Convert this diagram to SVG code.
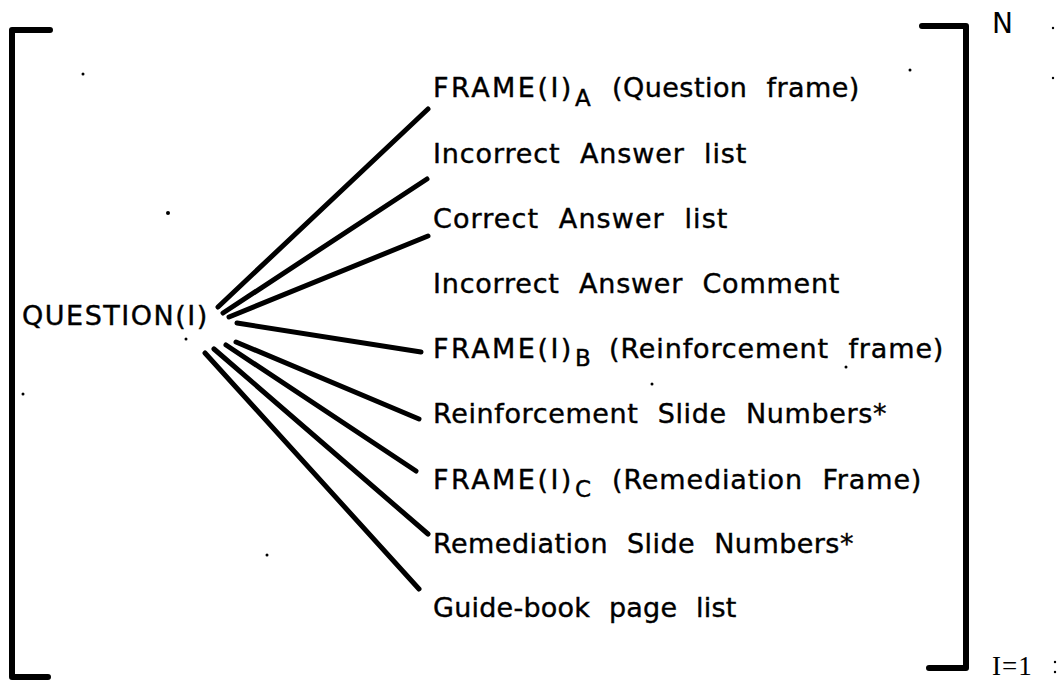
<svg xmlns="http://www.w3.org/2000/svg" width="1061" height="680" viewBox="0 0 1061 680">
  <style>
    .lbl { font-family: "DejaVu Sans", "Liberation Sans", Arial, sans-serif; font-size: 27px; letter-spacing: 0.6px; word-spacing: 10px; fill: #000; stroke: #000; stroke-width: 0.4px; }
    .sub { font-size: 23px; }
    .lim { font-family: "DejaVu Sans", "Liberation Sans", Arial, sans-serif; font-size: 28px; fill: #000; }
    .limserif { font-family: "Liberation Serif", "Times New Roman", serif; font-size: 27px; letter-spacing: 1px; fill: #000; }
    .bracket { fill: none; stroke: #000; stroke-width: 6; stroke-linejoin: round; stroke-linecap: round; }
    .conn line { stroke: #000; stroke-width: 5; stroke-linecap: round; }
    .speck { fill: #000; }
  </style>
  <rect x="0" y="0" width="1061" height="680" fill="#fff"/>

  <g id="bracket-left">
    <polyline class="bracket" points="50,30 12,30 12,677 48,677"/>
  </g>
  <g id="bracket-right">
    <polyline class="bracket" points="922,26 966,26 966,668 929,668"/>
  </g>
  <g id="limit-upper">
    <text class="lim" x="992" y="33">N</text>
  </g>
  <g id="limit-lower">
    <text class="limserif" x="992" y="675">I=1</text>
  </g>

  <g id="question">
    <text class="lbl" x="22" y="325" textLength="186" lengthAdjust="spacing">QUESTION(I)</text>
  </g>

  <g id="connectors" class="conn">
    <line x1="218" y1="307" x2="428" y2="109"/>
    <line x1="223" y1="313" x2="427" y2="179"/>
    <line x1="229" y1="317" x2="428" y2="236"/>
    <line x1="237" y1="323" x2="421" y2="352"/>
    <line x1="236" y1="342" x2="419" y2="419"/>
    <line x1="226" y1="345" x2="416" y2="471"/>
    <line x1="214" y1="349" x2="428" y2="534"/>
    <line x1="205" y1="353" x2="419" y2="589"/>
  </g>

  <g id="item-frame-a">
    <text class="lbl" x="433" y="97"><tspan textLength="139" lengthAdjust="spacing">FRAME(I)</tspan><tspan class="sub" x="575" dy="9">A</tspan><tspan x="612" dy="-9" textLength="248" lengthAdjust="spacing">(Question frame)</tspan></text>
  </g>
  <g id="item-incorrect-list">
    <text class="lbl" x="433" y="163" textLength="314" lengthAdjust="spacing">Incorrect Answer list</text>
  </g>
  <g id="item-correct-list">
    <text class="lbl" x="433" y="228" textLength="295" lengthAdjust="spacing">Correct Answer list</text>
  </g>
  <g id="item-incorrect-comment">
    <text class="lbl" x="433" y="293" textLength="407" lengthAdjust="spacing">Incorrect Answer Comment</text>
  </g>
  <g id="item-frame-b">
    <text class="lbl" x="433" y="358"><tspan textLength="139" lengthAdjust="spacing">FRAME(I)</tspan><tspan class="sub" x="575" dy="8">B</tspan><tspan x="609" dy="-8" textLength="335" lengthAdjust="spacing">(Reinforcement frame)</tspan></text>
  </g>
  <g id="item-reinf-slides">
    <text class="lbl" x="433" y="423" textLength="454" lengthAdjust="spacing">Reinforcement Slide Numbers*</text>
  </g>
  <g id="item-frame-c">
    <text class="lbl" x="433" y="489"><tspan textLength="139" lengthAdjust="spacing">FRAME(I)</tspan><tspan class="sub" x="575" dy="8">C</tspan><tspan x="612" dy="-8" textLength="310" lengthAdjust="spacing">(Remediation Frame)</tspan></text>
  </g>
  <g id="item-remed-slides">
    <text class="lbl" x="433" y="553" textLength="421" lengthAdjust="spacing">Remediation Slide Numbers*</text>
  </g>
  <g id="item-guidebook">
    <text class="lbl" x="433" y="617" textLength="304" lengthAdjust="spacing">Guide-book page list</text>
  </g>

  <g id="specks" class="speck">
    <circle cx="83" cy="74" r="1.5"/>
    <circle cx="168" cy="213" r="2"/>
    <circle cx="186" cy="339" r="1.5"/>
    <circle cx="23" cy="394" r="1.5"/>
    <circle cx="267" cy="555" r="1.5"/>
    <circle cx="910" cy="70" r="1.5"/>
    <circle cx="846" cy="367" r="1.5"/>
    <circle cx="652" cy="384" r="1.5"/>
    <circle cx="1053" cy="28" r="1.2"/>
    <circle cx="1053" cy="78" r="1.2"/>
    <circle cx="1055" cy="662" r="1.2"/>
    <circle cx="1055" cy="672" r="1.2"/>
  </g>
</svg>
